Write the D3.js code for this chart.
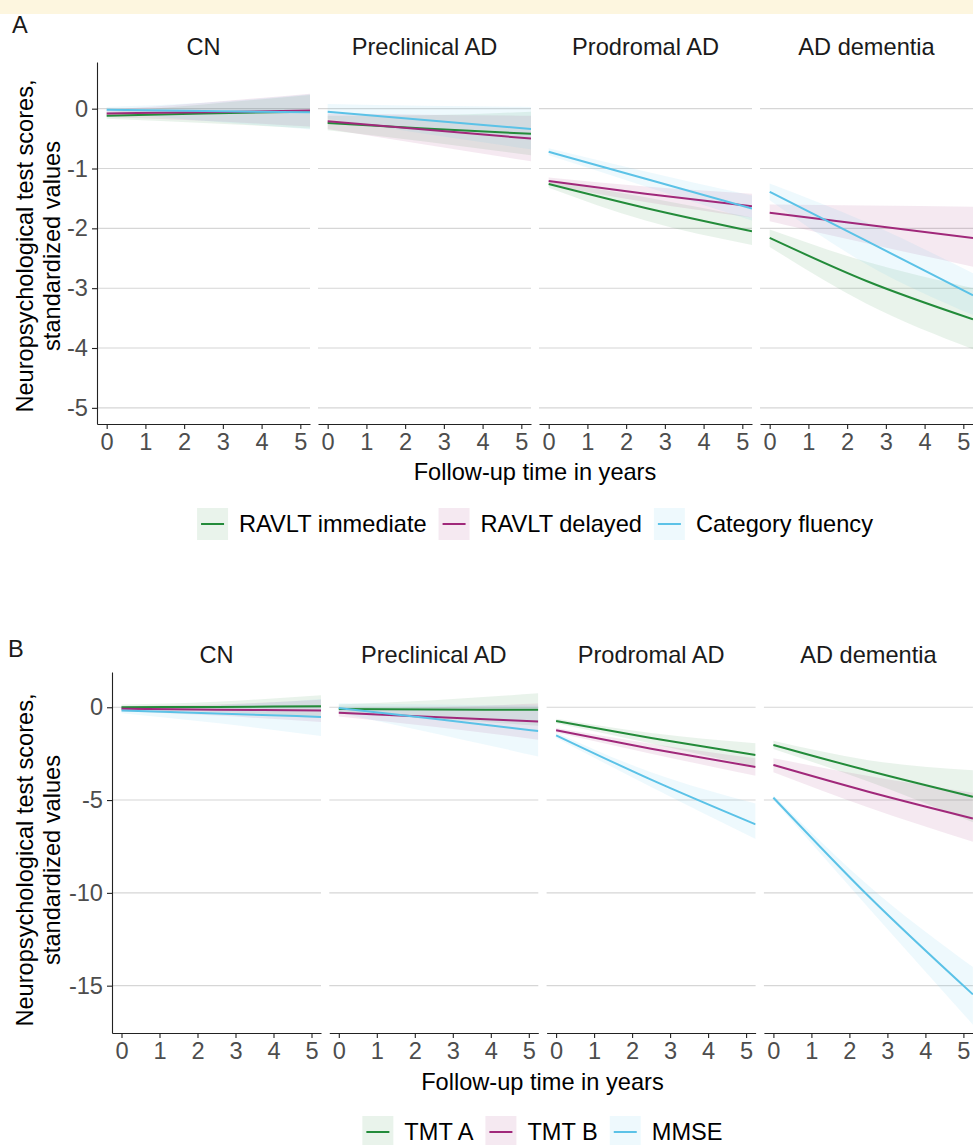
<!DOCTYPE html>
<html><head><meta charset="utf-8">
<script src="https://cdn.jsdelivr.net/npm/d3@7"></script>
<style>
body{margin:0;background:#fff;}
svg text{font-family:"Liberation Sans",Arial,Helvetica,sans-serif;}
</style></head><body>
<svg id="chart" width="973" height="1145"></svg>
<script>
// ---------------- DATA ----------------
const panelNames = ["CN", "Preclinical AD", "Prodromal AD", "AD dementia"];
const fitYears = [0, 2.5, 5.25];          // years at which fitted values were read
const xTickYears = [0, 1, 2, 3, 4, 5];
const yTicksA = [0, -1, -2, -3, -4, -5];
const yTicksB = [0, -5, -10, -15];
const seriesNamesA = ["RAVLT immediate", "RAVLT delayed", "Category fluency"];
const seriesNamesB = ["TMT A", "TMT B", "MMSE"];
const seriesColors = ["#238b3a", "#a0287a", "#5bc2e7"];

// Panel A — one row per diagnostic group, values at fitYears
const ravltImmEst = [[-0.12, -0.08, -0.05], [-0.24, -0.33, -0.42], [-1.26, -1.66, -2.05], [-2.16, -2.88, -3.52]];
const ravltImmLo  = [[-0.17, -0.24, -0.33], [-0.36, -0.55, -0.78], [-1.32, -1.87, -2.28], [-2.31, -3.26, -4.02]];
const ravltImmHi  = [[-0.06, 0.07, 0.23],   [-0.12, -0.11, -0.05], [-1.20, -1.48, -1.82], [-2.02, -2.56, -3.00]];

const ravltDelEst = [[-0.08, -0.06, -0.03], [-0.21, -0.35, -0.50], [-1.21, -1.42, -1.63], [-1.74, -1.94, -2.16]];
const ravltDelLo  = [[-0.14, -0.20, -0.30], [-0.34, -0.60, -0.88], [-1.27, -1.56, -1.82], [-1.88, -2.25, -2.64]];
const ravltDelHi  = [[-0.02, 0.10, 0.25],   [-0.08, -0.10, -0.12], [-1.15, -1.30, -1.42], [-1.60, -1.62, -1.64]];

const catFluEst = [[-0.02, -0.04, -0.06], [-0.05, -0.19, -0.34], [-0.72, -1.17, -1.67], [-1.39, -2.21, -3.12]];
const catFluLo  = [[-0.07, -0.20, -0.35], [-0.17, -0.42, -0.68], [-0.78, -1.30, -1.87], [-1.53, -2.60, -3.45]];
const catFluHi  = [[0.03, 0.10, 0.24],    [0.08, 0.05, 0.03],    [-0.66, -1.05, -1.45], [-1.25, -1.90, -2.75]];

// Panel B
const tmtAEst = [[0.00, 0.02, 0.05],   [-0.10, -0.12, -0.14], [-0.74, -1.66, -2.57], [-2.03, -3.42, -4.82]];
const tmtALo  = [[-0.15, -0.25, -0.55], [-0.35, -0.60, -1.00], [-0.86, -1.95, -3.20], [-2.25, -4.00, -6.20]];
const tmtAHi  = [[0.15, 0.30, 0.65],   [0.15, 0.38, 0.75],    [-0.62, -1.38, -1.94], [-1.81, -2.85, -3.40]];

const tmtBEst = [[-0.08, -0.13, -0.18], [-0.30, -0.52, -0.77], [-1.24, -2.23, -3.22], [-3.11, -4.55, -5.99]];
const tmtBLo  = [[-0.22, -0.45, -0.80], [-0.50, -1.05, -1.75], [-1.36, -2.50, -3.69], [-3.50, -5.40, -7.25]];
const tmtBHi  = [[0.06, 0.15, 0.40],    [-0.10, 0.00, 0.20],   [-1.12, -1.96, -2.75], [-2.75, -3.70, -4.60]];

const mmseEst = [[-0.17, -0.33, -0.52], [-0.04, -0.62, -1.28], [-1.51, -3.90, -6.31], [-4.87, -10.17, -15.47]];
const mmseLo  = [[-0.32, -0.85, -1.55], [-0.30, -1.40, -2.65], [-1.65, -4.30, -7.10], [-5.00, -10.80, -17.10]];
const mmseHi  = [[-0.02, 0.10, 0.45],   [0.22, 0.15, 0.10],    [-1.37, -3.50, -5.18], [-4.74, -9.60, -14.00]];

// ---------------- DRAW ----------------
const svg = d3.select("#chart");
const FS = 23.6;
svg.append("rect").attr("x", 0).attr("y", 0).attr("width", 973).attr("height", 14).attr("fill", "#fdf6df");

function mkSeries(names, est, lo, hi) {
  return names.map((n, i) => ({ name: n, color: seriesColors[i], est: est[i], lo: lo[i], hi: hi[i] }));
}

function drawBlock(cfg, idx) {
  const g = svg.append("g");
  const x = d3.scaleLinear().domain([-0.25, 5.25]).range([0, cfg.pw]);
  const y = d3.scaleLinear().domain(cfg.yDomain).range([cfg.bottom, cfg.top]);
  const totalW = cfg.pw * 4 + cfg.gap * 3;

  panelNames.forEach((pn, p) => {
    const left = cfg.left0 + p * (cfg.pw + cfg.gap);
    const pg = g.append("g").attr("transform", `translate(${left},0)`);
    const cid = `clip${idx}_${p}`;
    pg.append("clipPath").attr("id", cid).append("rect")
      .attr("x", 0).attr("y", cfg.top).attr("width", cfg.pw).attr("height", cfg.bottom - cfg.top);

    // gridlines
    pg.selectAll("line.grid").data(cfg.yTicks).join("line").attr("class", "grid")
      .attr("x1", 0).attr("x2", cfg.pw).attr("y1", d => y(d)).attr("y2", d => y(d))
      .attr("stroke", "#d6d6d6").attr("stroke-width", 1.1);

    const body = pg.append("g").attr("clip-path", `url(#${cid})`);
    const area = d3.area().x(d => x(d.t)).y0(d => y(d.lo)).y1(d => y(d.hi)).curve(d3.curveMonotoneX);
    const line = d3.line().x(d => x(d.t)).y(d => y(d.v)).curve(d3.curveMonotoneX);

    cfg.series.forEach(s => {
      const pts = fitYears.map((t, k) => ({ t, lo: s.lo[p][k], hi: s.hi[p][k] }));
      body.append("path").attr("d", area(pts)).attr("fill", s.color).attr("fill-opacity", 0.1);
    });
    cfg.series.forEach(s => {
      const pts = fitYears.map((t, k) => ({ t, v: s.est[p][k] }));
      body.append("path").attr("d", line(pts)).attr("fill", "none").attr("stroke", s.color).attr("stroke-width", 2);
    });

    // x axis
    const xa = pg.append("g").attr("transform", `translate(0,${cfg.bottom})`)
      .call(d3.axisBottom(x).tickValues(xTickYears).tickFormat(d => String(d)).tickSize(5).tickSizeOuter(0).tickPadding(4));
    styleAxis(xa);

    // y axis (first panel only)
    if (p === 0) {
      const ya = pg.append("g")
        .call(d3.axisLeft(y).tickValues(cfg.yTicks).tickFormat(d => String(d)).tickSize(5).tickSizeOuter(0).tickPadding(4));
      styleAxis(ya);
    }

    // strip label
    pg.append("text").attr("x", cfg.pw / 2).attr("y", cfg.stripY).attr("text-anchor", "middle")
      .attr("font-size", FS).attr("fill", "#1a1a1a").text(pn);
  });

  // panel tag
  svg.append("text").attr("x", cfg.tag[1]).attr("y", cfg.tag[2]).attr("font-size", FS).attr("fill", "#1a1a1a").text(cfg.tag[0]);

  // x title
  svg.append("text").attr("x", cfg.left0 + totalW / 2).attr("y", cfg.xTitleY).attr("text-anchor", "middle")
    .attr("font-size", FS).attr("fill", "#000").text("Follow-up time in years");

  // y title (two lines)
  const ycy = cfg.yTitleCY;
  [["Neuropsychological test scores,", 25], ["standardized values", 52]].forEach(([t, cx]) => {
    svg.append("text").attr("transform", `translate(${cx},${ycy}) rotate(-90)`)
      .attr("text-anchor", "middle").attr("dominant-baseline", "central")
      .attr("font-size", FS).attr("fill", "#000").text(t);
  });

  // legend
  const lg = svg.append("g");
  let cx = 0;
  cfg.series.forEach(s => {
    const it = lg.append("g").attr("transform", `translate(${cx},0)`);
    it.append("rect").attr("x", 0).attr("y", -16).attr("width", 31).attr("height", 32)
      .attr("fill", s.color).attr("fill-opacity", 0.1);
    it.append("line").attr("x1", 4).attr("x2", 27).attr("y1", 0).attr("y2", 0)
      .attr("stroke", s.color).attr("stroke-width", 2);
    const tx = it.append("text").attr("x", 42).attr("y", 8).attr("font-size", FS).attr("fill", "#000").text(s.name);
    cx += 42 + tx.node().getComputedTextLength() + 12;
  });
  const lw = cx - 12;
  lg.attr("transform", `translate(${cfg.left0 + totalW / 2 - lw / 2},${cfg.legendY})`);
}

function styleAxis(a) {
  a.select(".domain").attr("stroke", "#222").attr("stroke-width", 1.1);
  a.selectAll(".tick line").attr("stroke", "#222").attr("stroke-width", 1.1);
  a.selectAll(".tick text").attr("font-size", FS).attr("fill", "#4d4d4d")
    .attr("font-family", '"Liberation Sans",Arial,sans-serif');
}

drawBlock({
  top: 62, bottom: 424, left0: 97, pw: 213, gap: 8,
  yDomain: [-5.27, 0.78], yTicks: yTicksA, stripY: 55,
  tag: ["A", 12, 33], xTitleY: 480, yTitleCY: 246, legendY: 524,
  series: mkSeries(seriesNamesA, [ravltImmEst, ravltDelEst, catFluEst], [ravltImmLo, ravltDelLo, catFluLo], [ravltImmHi, ravltDelHi, catFluHi])
}, 0);

drawBlock({
  top: 672, bottom: 1033, left0: 112, pw: 209, gap: 8.3,
  yDomain: [-17.55, 1.9], yTicks: yTicksB, stripY: 663,
  tag: ["B", 8, 657], xTitleY: 1090, yTitleCY: 860, legendY: 1132,
  series: mkSeries(seriesNamesB, [tmtAEst, tmtBEst, mmseEst], [tmtALo, tmtBLo, mmseLo], [tmtAHi, tmtBHi, mmseHi])
}, 1);
</script>
</body></html>
